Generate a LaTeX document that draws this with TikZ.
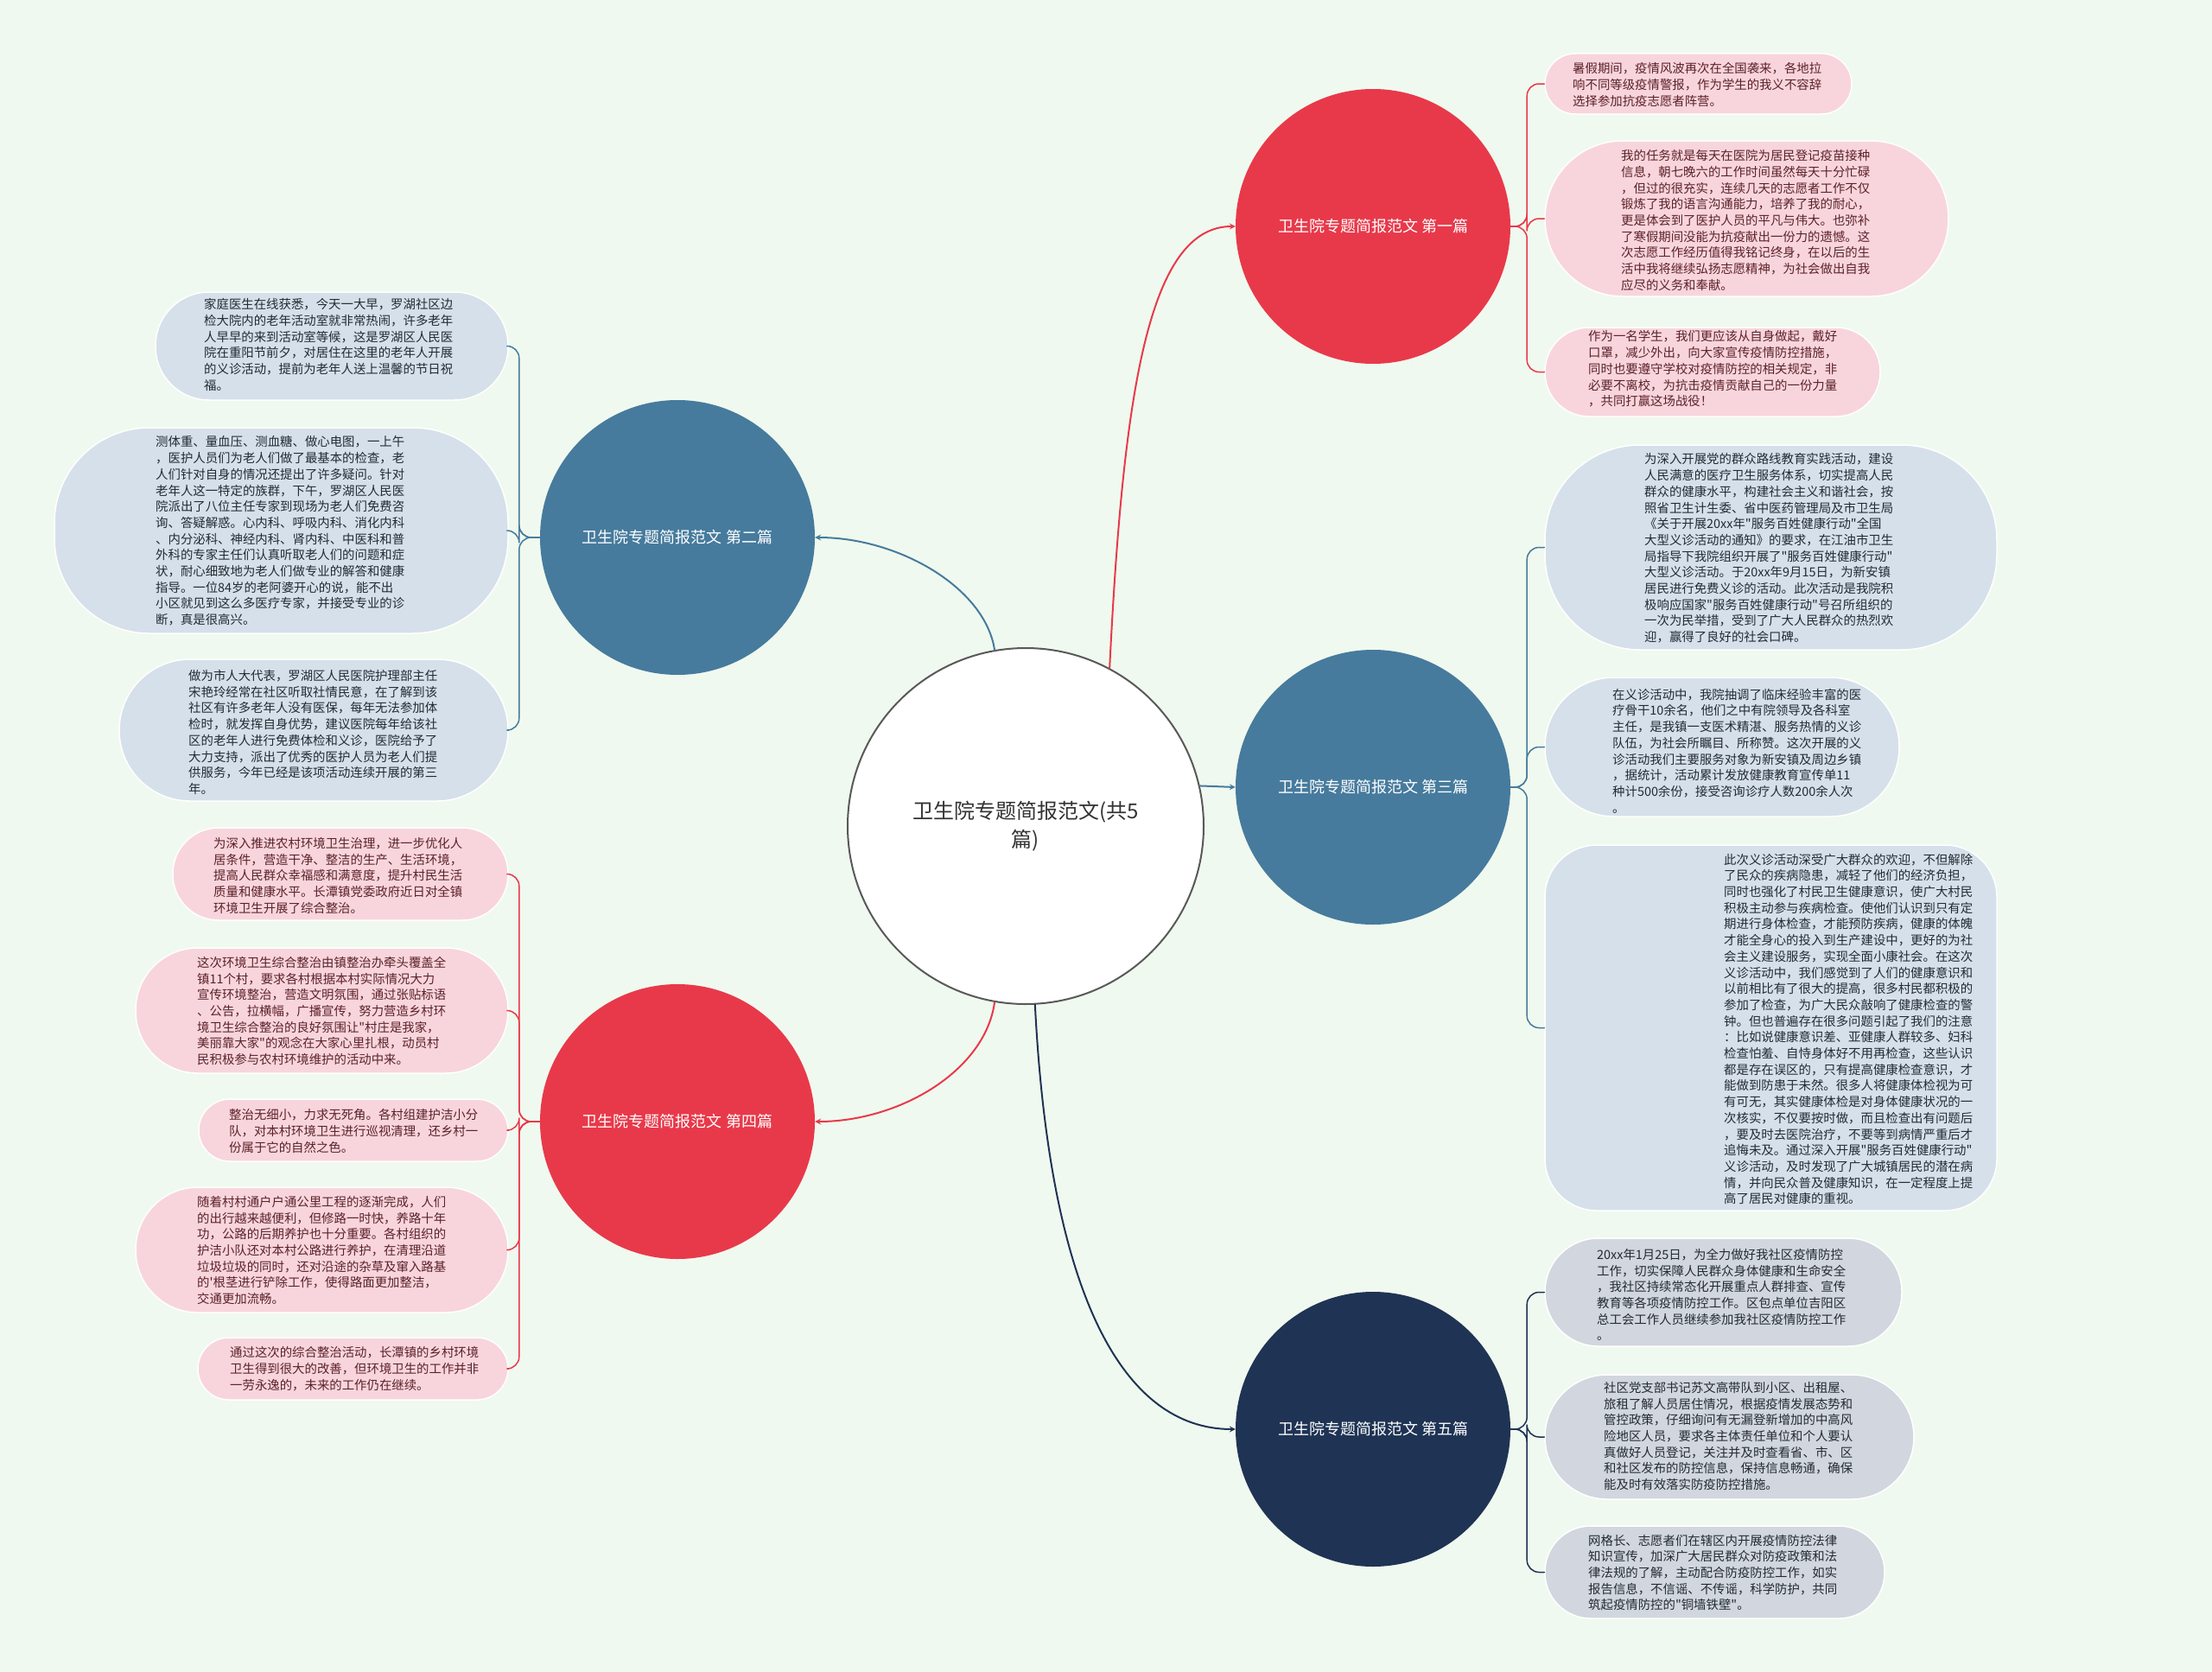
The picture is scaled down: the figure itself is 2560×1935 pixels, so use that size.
\documentclass[tikz,border=0pt]{standalone}
\usepackage{fontspec}
\setmainfont{Noto Sans CJK SC}[Ligatures=TeXOff]
\usetikzlibrary{arrows.meta}
\definecolor{bgcol}{HTML}{F0F9EF}
\definecolor{redc}{HTML}{E8394A}
\definecolor{bluec}{HTML}{467B9D}
\definecolor{navyc}{HTML}{1F3354}
\definecolor{pinkbg}{HTML}{F8D5DC}
\definecolor{bluebg}{HTML}{D6E0EA}
\definecolor{graybg}{HTML}{D2D6DE}
\definecolor{pinktx}{HTML}{5C2129}
\definecolor{darktx}{HTML}{222B33}
\begin{document}
\begin{tikzpicture}[x=1pt, y=-1pt, line join=round, line cap=round, >=stealth]
	\tikzset{every node/.style={inner sep=0pt, font=\fontsize{14.4}{18.7}\selectfont}}
	\tikzset{pill/.style={rectangle, draw=white, line width=1.5pt, rounded corners=#1},
		pill/.default=40,
		pinkleaf/.style={pill=#1, fill=pinkbg}, pinkleaf/.default=40,
		blueleaf/.style={pill=#1, fill=bluebg}, blueleaf/.default=40,
		grayleaf/.style={pill=#1, fill=graybg}, grayleaf/.default=40,
		pinktext/.style={text=pinktx, text width=292, align=left, anchor=west},
		darktext/.style={text=darktx, text width=292, align=left, anchor=west},
		topic/.style={circle, minimum size=318, text=white, font=\fontsize{18}{22}\selectfont},
		redline/.style={draw=redc, line width=1.5pt, rounded corners=14},
		blueline/.style={draw=bluec, line width=1.5pt, rounded corners=14},
		navyline/.style={draw=navyc, line width=1.5pt, rounded corners=14}}
	\useasboundingbox (0,0) rectangle (2560,1935);
	\fill[bgcol] (0,0) rectangle (2560,1935);
	% centre and topics
	\node[circle, draw=black!65, line width=2pt, fill=white, minimum size=412, text width=292, align=center, text=black!80, font=\fontsize{24}{33}\selectfont] (ctr) at (1187,956) {卫生院专题简报范文(共5\\篇)};
	\node[topic, fill=redc] (c1) at (1589,262) {卫生院专题简报范文 第一篇};
	\node[topic, fill=bluec] (c2) at (784,622) {卫生院专题简报范文 第二篇};
	\node[topic, fill=bluec] (c3) at (1589,911) {卫生院专题简报范文 第三篇};
	\node[topic, fill=redc] (c4) at (784,1298) {卫生院专题简报范文 第四篇};
	\node[topic, fill=navyc] (c5) at (1589,1654) {卫生院专题简报范文 第五篇};
	% leaves of the first topic
	\node[pinkleaf=35, minimum width=355, minimum height=70] (r1) at (1965.5,97) {};
	\node[pinktext] (r1t) at (1820,98) {暑假期间，疫情风波再次在全国袭来，各地拉\\响不同等级疫情警报，作为学生的我义不容辞\\选择参加抗疫志愿者阵营。};
	\node[pinkleaf=90, minimum width=467, minimum height=180] (r2) at (2021.5,253) {};
	\node[pinktext] (r2t) at (1876,255) {我的任务就是每天在医院为居民登记疫苗接种\\信息，朝七晚六的工作时间虽然每天十分忙碌\\，但过的很充实，连续几天的志愿者工作不仅\\锻炼了我的语言沟通能力，培养了我的耐心，\\更是体会到了医护人员的平凡与伟大。也弥补\\了寒假期间没能为抗疫献出一份力的遗憾。这\\次志愿工作经历值得我铭记终身，在以后的生\\活中我将继续弘扬志愿精神，为社会做出自我\\应尽的义务和奉献。};
	\node[pinkleaf=51, minimum width=388, minimum height=103] (r3) at (1982,430.5) {};
	\node[pinktext] (r3t) at (1838,427) {作为一名学生，我们更应该从自身做起，戴好\\口罩，减少外出，向大家宣传疫情防控措施，\\同时也要遵守学校对疫情防控的相关规定，非\\必要不离校，为抗击疫情贡献自己的一份力量\\，共同打赢这场战役！};
	% leaves of the third topic
	\node[blueleaf=110, minimum width=523, minimum height=237] (r4) at (2049.5,633.5) {};
	\node[darktext] (r4t) at (1903,634.5) {为深入开展党的群众路线教育实践活动，建设\\人民满意的医疗卫生服务体系，切实提高人民\\群众的健康水平，构建社会主义和谐社会，按\\照省卫生计生委、省中医药管理局及市卫生局\\《关于开展20xx年"服务百姓健康行动"全国\\大型义诊活动的通知》的要求，在江油市卫生\\局指导下我院组织开展了"服务百姓健康行动"\\大型义诊活动。于20xx年9月15日，为新安镇\\居民进行免费义诊的活动。此次活动是我院积\\极响应国家"服务百姓健康行动"号召所组织的\\一次为民举措，受到了广大人民群众的热烈欢\\迎，赢得了良好的社会口碑。};
	\node[blueleaf=80, minimum width=410, minimum height=161] (r5) at (1993,864.5) {};
	\node[darktext] (r5t) at (1866,869) {在义诊活动中，我院抽调了临床经验丰富的医\\疗骨干10余名，他们之中有院领导及各科室\\主任，是我镇一支医术精湛、服务热情的义诊\\队伍，为社会所瞩目、所称赞。这次开展的义\\诊活动我们主要服务对象为新安镇及周边乡镇\\，据统计，活动累计发放健康教育宣传单11\\种计500余份，接受咨询诊疗人数200余人次\\。};
	\node[blueleaf=60, minimum width=523, minimum height=423] (r6) at (2049.5,1189.5) {};
	\node[darktext] (r6t) at (1995,1191) {此次义诊活动深受广大群众的欢迎，不但解除\\了民众的疾病隐患，减轻了他们的经济负担，\\同时也强化了村民卫生健康意识，使广大村民\\积极主动参与疾病检查。使他们认识到只有定\\期进行身体检查，才能预防疾病，健康的体魄\\才能全身心的投入到生产建设中，更好的为社\\会主义建设服务，实现全面小康社会。在这次\\义诊活动中，我们感觉到了人们的健康意识和\\以前相比有了很大的提高，很多村民都积极的\\参加了检查，为广大民众敲响了健康检查的警\\钟。但也普遍存在很多问题引起了我们的注意\\：比如说健康意识差、亚健康人群较多、妇科\\检查怕羞、自恃身体好不用再检查，这些认识\\都是存在误区的，只有提高健康检查意识，才\\能做到防患于未然。很多人将健康体检视为可\\有可无，其实健康体检是对身体健康状况的一\\次核实，不仅要按时做，而且检查出有问题后\\，要及时去医院治疗，不要等到病情严重后才\\追悔未及。通过深入开展"服务百姓健康行动"\\义诊活动，及时发现了广大城镇居民的潜在病\\情，并向民众普及健康知识，在一定程度上提\\高了居民对健康的重视。};
	% leaves of the fifth topic
	\node[grayleaf=62, minimum width=413, minimum height=125] (r7) at (1994.5,1495.5) {};
	\node[darktext] (r7t) at (1848,1498.5) {20xx年1月25日，为全力做好我社区疫情防控\\工作，切实保障人民群众身体健康和生命安全\\，我社区持续常态化开展重点人群排查、宣传\\教育等各项疫情防控工作。区包点单位吉阳区\\总工会工作人员继续参加我社区疫情防控工作\\。};
	\node[grayleaf=72, minimum width=427, minimum height=144] (r8) at (2001.5,1663) {};
	\node[darktext] (r8t) at (1856,1662) {社区党支部书记苏文高带队到小区、出租屋、\\旅租了解人员居住情况，根据疫情发展态势和\\管控政策，仔细询问有无漏登新增加的中高风\\险地区人员，要求各主体责任单位和个人要认\\真做好人员登记，关注并及时查看省、市、区\\和社区发布的防控信息，保持信息畅通，确保\\能及时有效落实防疫防控措施。};
	\node[grayleaf=53, minimum width=393, minimum height=107] (r9) at (1984.5,1819.5) {};
	\node[darktext] (r9t) at (1838,1820) {网格长、志愿者们在辖区内开展疫情防控法律\\知识宣传，加深广大居民群众对防疫政策和法\\律法规的了解，主动配合防疫防控工作，如实\\报告信息，不信谣、不传谣，科学防护，共同\\筑起疫情防控的"铜墙铁壁"。};
	% leaves of the second topic
	\node[blueleaf=62, minimum width=408, minimum height=125] (l1) at (384,400.5) {};
	\node[darktext] (l1t) at (236,399) {家庭医生在线获悉，今天一大早，罗湖社区边\\检大院内的老年活动室就非常热闹，许多老年\\人早早的来到活动室等候，这是罗湖区人民医\\院在重阳节前夕，对居住在这里的老年人开展\\的义诊活动，提前为老年人送上温馨的节日祝\\福。};
	\node[blueleaf=110, minimum width=525, minimum height=238] (l2) at (325.5,614) {};
	\node[darktext] (l2t) at (180,614.5) {测体重、量血压、测血糖、做心电图，一上午\\，医护人员们为老人们做了最基本的检查，老\\人们针对自身的情况还提出了许多疑问。针对\\老年人这一特定的族群，下午，罗湖区人民医\\院派出了八位主任专家到现场为老人们免费咨\\询、答疑解惑。心内科、呼吸内科、消化内科\\、内分泌科、神经内科、肾内科、中医科和普\\外科的专家主任们认真听取老人们的问题和症\\状，耐心细致地为老人们做专业的解答和健康\\指导。一位84岁的老阿婆开心的说，能不出\\小区就见到这么多医疗专家，并接受专业的诊\\断，真是很高兴。};
	\node[blueleaf=82, minimum width=450, minimum height=164] (l3) at (363,845) {};
	\node[darktext] (l3t) at (218,847.5) {做为市人大代表，罗湖区人民医院护理部主任\\宋艳玲经常在社区听取社情民意，在了解到该\\社区有许多老年人没有医保，每年无法参加体\\检时，就发挥自身优势，建议医院每年给该社\\区的老年人进行免费体检和义诊，医院给予了\\大力支持，派出了优秀的医护人员为老人们提\\供服务，今年已经是该项活动连续开展的第三\\年。};
	% leaves of the fourth topic
	\node[pinkleaf=53, minimum width=388, minimum height=107] (l4) at (394,1011.5) {};
	\node[pinktext] (l4t) at (247,1013.5) {为深入推进农村环境卫生治理，进一步优化人\\居条件，营造干净、整洁的生产、生活环境，\\提高人民群众幸福感和满意度，提升村民生活\\质量和健康水平。长潭镇党委政府近日对全镇\\环境卫生开展了综合整治。};
	\node[pinkleaf=72, minimum width=431, minimum height=145] (l5) at (372.5,1169.5) {};
	\node[pinktext] (l5t) at (228,1170) {这次环境卫生综合整治由镇整治办牵头覆盖全\\镇11个村，要求各村根据本村实际情况大力\\宣传环境整治，营造文明氛围，通过张贴标语\\、公告，拉横幅，广播宣传，努力营造乡村环\\境卫生综合整治的良好氛围让"村庄是我家，\\美丽靠大家"的观念在大家心里扎根，动员村\\民积极参与农村环境维护的活动中来。};
	\node[pinkleaf=36, minimum width=358, minimum height=72] (l6) at (409,1308) {};
	\node[pinktext] (l6t) at (265,1309) {整治无细小，力求无死角。各村组建护洁小分\\队，对本村环境卫生进行巡视清理，还乡村一\\份属于它的自然之色。};
	\node[pinkleaf=72, minimum width=431, minimum height=145] (l7) at (372.5,1446.5) {};
	\node[pinktext] (l7t) at (228,1447) {随着村村通户户通公里工程的逐渐完成，人们\\的出行越来越便利，但修路一时快，养路十年\\功，公路的后期养护也十分重要。各村组织的\\护洁小队还对本村公路进行养护，在清理沿道\\垃圾垃圾的同时，还对沿途的杂草及窜入路基\\的'根茎进行铲除工作，使得路面更加整洁，\\交通更加流畅。};
	\node[pinkleaf=36, minimum width=359, minimum height=72] (l8) at (408.5,1584) {};
	\node[pinktext] (l8t) at (266,1584) {通过这次的综合整治活动，长潭镇的乡村环境\\卫生得到很大的改善，但环境卫生的工作并非\\一劳永逸的，未来的工作仍在继续。};
	% branches
	\draw[redline, line width=2pt, ->] (ctr.62) .. controls (1300,450) and (1330,262) .. (c1.west);
	\draw[blueline, line width=2pt, ->] (ctr.100) .. controls (1140,680) and (1040,622) .. (c2.east);
	\draw[blueline, line width=2pt, ->] (ctr.13) -- (c3.west);
	\draw[redline, line width=2pt, ->] (ctr.260) .. controls (1140,1240) and (1040,1298) .. (c4.east);
	\draw[navyline, line width=2pt, ->] (ctr.273) .. controls (1215,1500) and (1300,1654) .. (c5.west);
	\foreach \l in {r1,r2,r3}
	\draw[redline] (c1.east) -- ++(19,0) |- (\l.west);
	\foreach \l in {r4,r5,r6}
	\draw[blueline] (c3.east) -- ++(19,0) |- (\l.west);
	\foreach \l in {r7,r8,r9}
	\draw[navyline] (c5.east) -- ++(19,0) |- (\l.west);
	\foreach \l in {l1,l2,l3}
	\draw[blueline] (c2.west) -- ++(-24,0) |- (\l.east);
	\foreach \l in {l4,l5,l6,l7,l8}
	\draw[redline] (c4.west) -- ++(-24,0) |- (\l.east);
\end{tikzpicture}
\end{document}
